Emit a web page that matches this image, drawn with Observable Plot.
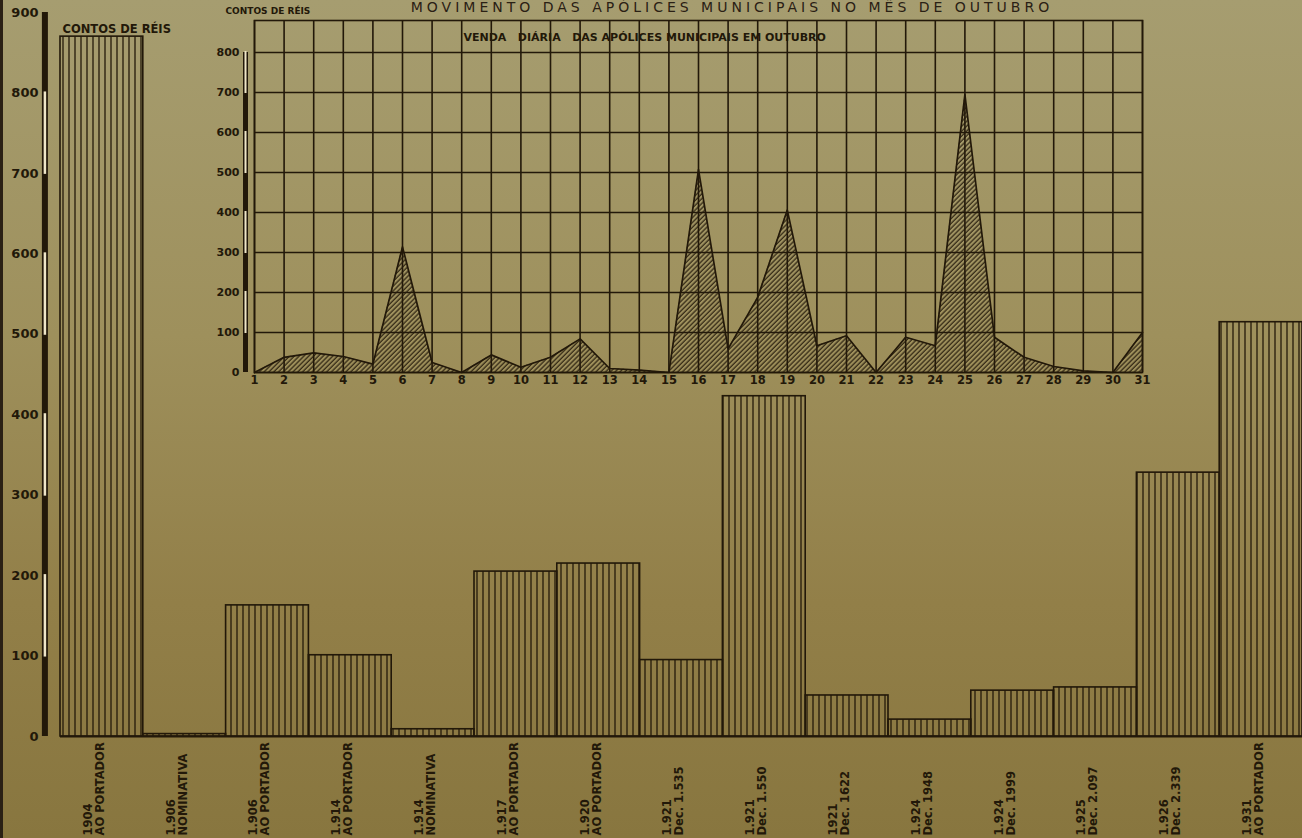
<!DOCTYPE html>
<html>
<head>
<meta charset="utf-8">
<script src="https://cdn.jsdelivr.net/npm/d3@7"></script>
<script src="https://cdn.jsdelivr.net/npm/@observablehq/plot@0.6"></script>
<style>
  html, body { margin: 0; padding: 0; }
  body {
    width: 1302px; height: 838px; overflow: hidden;
    background: linear-gradient(180deg, #a69d70 0%, #9e905c 40%, #927f48 72%, #88763f 100%);
    font-family: "DejaVu Sans", sans-serif;
  }
  #wrap { position: relative; width: 1302px; height: 838px; overflow: hidden; box-shadow: inset 3px 0 0 #2a2014; }
  #main { position: absolute; left: 0; top: 0; width: 1302px; height: 838px; }
  #inset { position: absolute; left: 197px; top: 0; width: 960px; height: 400px; }
  #title {
    position: absolute; left: 392px; top: 0; width: 680px; text-align: center;
    font: 14px/15px "DejaVu Sans", sans-serif; letter-spacing: 4px; color: #2a2014; white-space: nowrap;
  }
</style>
</head>
<body>
<div id="wrap">
  <div id="main"></div>
  <div id="inset"></div>
  <div id="title">MOVIMENTO DAS APÓLICES MUNICIPAIS NO MÊS DE OUTUBRO</div>
</div>
<script>
// ---------- DATA ----------
const barYears = ["1904", "1.906", "1.906", "1.914", "1.914", "1.917", "1.920", "1.921", "1.921", "1921", "1.924", "1.924", "1.925", "1.926", "1.931"];
const barTypes = ["AO PORTADOR", "NOMINATIVA", "AO PORTADOR", "AO PORTADOR", "NOMINATIVA", "AO PORTADOR", "AO PORTADOR",
                  "Dec. 1.535", "Dec. 1.550", "Dec. 1622", "Dec. 1948", "Dec. 1999", "Dec. 2.097", "Dec. 2.339", "AO PORTADOR"];
const barValues = [870, 3, 163, 101, 9, 205, 215, 95, 423, 51, 21, 57, 61, 328, 515];
const mainTicks = [0, 100, 200, 300, 400, 500, 600, 700, 800, 900];

const days = [1, 2, 3, 4, 5, 6, 7, 8, 9, 10, 11, 12, 13, 14, 15, 16, 17, 18, 19, 20, 21, 22, 23, 24, 25, 26, 27, 28, 29, 30, 31];
const daySales = [0, 38, 49, 40, 21, 314, 25, 0, 44, 13, 38, 84, 10, 6, 0, 507, 59, 188, 406, 67, 92, 0, 88, 67, 695, 88, 38, 15, 4, 0, 100];
const insetTicks = [0, 100, 200, 300, 400, 500, 600, 700, 800];
const insetTop = 880;

const mainUnit = "CONTOS DE RÉIS";
const insetUnit = "CONTOS DE RÉIS";
const insetTitle = "VENDA   DIÁRIA   DAS APÓLICES MUNICIPAIS EM OUTUBRO";

// ---------- STYLE ----------
const ink = "#221809";
const paper = "#efe6c8";
const svgStyle = "background: transparent; overflow: visible; max-width: none; font-family: 'DejaVu Sans', sans-serif;";

const bars = barValues.map((v, i) => ({i, year: barYears[i], type: barTypes[i], value: v}));
const sales = days.map((d, i) => ({day: d, value: daySales[i]}));
const segs = (ticks) => ticks.slice(0, -1).map((lo, k) => ({lo, hi: ticks[k + 1], dark: k % 2 === 0}));
const mainSegs = segs(mainTicks);
const insetSegs = segs(insetTicks);

function addDefs(svg) {
  const ns = "http://www.w3.org/2000/svg";
  const defs = document.createElementNS(ns, "defs");
  defs.innerHTML = `
    <pattern id="vhatch" patternUnits="userSpaceOnUse" width="6" height="10">
      <line x1="3" y1="0" x2="3" y2="10" stroke="${ink}" stroke-width="1.3"/>
    </pattern>
    <pattern id="dhatch" patternUnits="userSpaceOnUse" width="3.4" height="6" patternTransform="rotate(45)">
      <line x1="1" y1="0" x2="1" y2="6" stroke="${ink}" stroke-width="1.1"/>
    </pattern>`;
  svg.insertBefore(defs, svg.firstChild);
}

// ---------- MAIN CHART ----------
const main = Plot.plot({
  width: 1302, height: 838,
  marginLeft: 60, marginRight: 0, marginTop: 12, marginBottom: 102,
  style: svgStyle,
  x: {type: "band", domain: d3.range(bars.length), padding: 0, round: false, axis: null},
  y: {domain: [0, 900], axis: null},
  marks: [
    Plot.barY(bars, {x: "i", y: "value", fill: "url(#vhatch)", stroke: ink, strokeWidth: 1.6}),
    Plot.ruleY([0], {stroke: ink, strokeWidth: 2}),
    // scale bar of the y axis
    Plot.ruleX([0], {x: () => 0, y1: mainTicks[0], y2: mainTicks[mainTicks.length - 1], stroke: ink, strokeWidth: 6, dx: -57}),
    Plot.ruleX(mainSegs.filter(d => !d.dark), {x: () => 0, y1: "lo", y2: "hi", stroke: paper, strokeWidth: 2.5, dx: -57, insetTop: 1, insetBottom: 1}),
    Plot.axisY({ticks: mainTicks, tickSize: 0, tickPadding: 22, fontSize: 13, fontWeight: "bold", fill: ink, tickFormat: d => String(d)}),
    Plot.text([mainUnit], {frameAnchor: "top-left", dx: 2, dy: 12, textAnchor: "start", fontSize: 11.5, fontWeight: "bold", fill: ink}),
    Plot.text(bars, {x: "i", y: 0, text: d => d.year + "\n" + d.type, rotate: -90, textAnchor: "start", lineAnchor: "middle",
                     dx: -8, dy: 99, fontSize: 11.5, fontWeight: "bold", fill: ink, lineHeight: 1.05})
  ]
});
addDefs(main);
document.getElementById("main").appendChild(main);

// ---------- INSET CHART ----------
const inset = Plot.plot({
  width: 960, height: 400,
  marginLeft: 57, marginRight: 15, marginTop: 20, marginBottom: 28,
  style: svgStyle,
  x: {domain: [days[0], days[days.length - 1]], axis: null},
  y: {domain: [0, insetTop], axis: null},
  marks: [
    Plot.gridX({ticks: days, stroke: ink, strokeOpacity: 1, strokeWidth: 1.6}),
    Plot.gridY({ticks: insetTicks, stroke: ink, strokeOpacity: 1, strokeWidth: 1.6}),
    Plot.frame({stroke: ink, strokeWidth: 1.6}),
    Plot.areaY(sales, {x: "day", y: "value", fill: "url(#dhatch)"}),
    Plot.lineY(sales, {x: "day", y: "value", stroke: ink, strokeWidth: 1.7}),
    Plot.ruleX([0], {x: () => days[0], y1: insetTicks[0], y2: insetTicks[insetTicks.length - 1], stroke: ink, strokeWidth: 5, dx: -9}),
    Plot.ruleX(insetSegs.filter(d => !d.dark), {x: () => days[0], y1: "lo", y2: "hi", stroke: paper, strokeWidth: 2, dx: -9, insetTop: 1, insetBottom: 1}),
    Plot.axisY({ticks: insetTicks, tickSize: 0, tickPadding: 15, fontSize: 11, fontWeight: "bold", fill: ink, tickFormat: d => String(d), label: null}),
    Plot.axisX({ticks: days, tickSize: 0, tickPadding: 3, fontSize: 11.5, fontWeight: "bold", fill: ink, tickFormat: d => String(d), label: null}),
    Plot.text([insetUnit], {frameAnchor: "top-left", dx: -29, dy: -13, textAnchor: "start", fontSize: 9, fontWeight: "bold", fill: ink}),
    Plot.text([insetTitle], {frameAnchor: "top-left", dx: 209, dy: 13, textAnchor: "start", fontSize: 11, fontWeight: "bold", fill: ink})
  ]
});
addDefs(inset);
document.getElementById("inset").appendChild(inset);
</script>
</body>
</html>
